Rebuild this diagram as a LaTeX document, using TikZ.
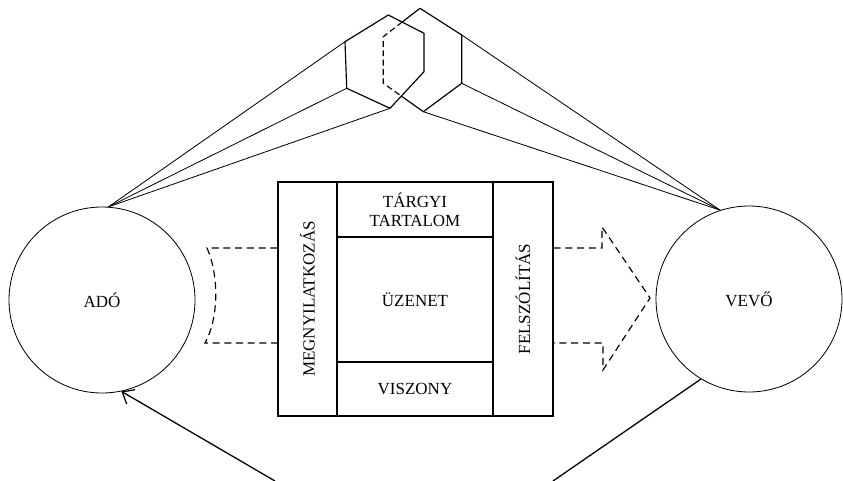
\documentclass[tikz,border=0pt]{standalone}
\usepackage{fontspec}
\setmainfont{Liberation Serif}
\usetikzlibrary{arrows.meta, calc}

\begin{document}
\begin{tikzpicture}[
    x=0.03cm, y=-0.03cm,
    font=\fontsize{14.5}{16.5}\selectfont,
    party/.style={circle, draw, line width=0.7pt, minimum size=5.58cm, inner sep=0pt},
    cell/.style={rectangle, draw, line width=1.1pt, inner sep=0pt, align=center},
    flow/.style={dash pattern=on 6pt off 4pt, line width=1pt},
    ray/.style={line width=0.7pt},
    edge/.style={line width=1pt, line join=round},
    hidden/.style={edge, dash pattern=on 5pt off 3pt},
    back/.style={-{Straight Barb[length=3mm, width=5mm]}, line width=1.1pt}
]
\useasboundingbox (0,0) rectangle (843,481);
% ===== ADÓ / VEVŐ =====
\node[party] (ado)  at (102,300) {ADÓ};
\node[party] (vevo) at (749,299) {VEVŐ};
% ===== ÜZENET DOBOZ =====
\node[cell, minimum width=1.77cm, minimum height=7.02cm] (megny) at (307.5,299) {};
\node[cell, minimum width=1.8cm, minimum height=7.02cm] (felsz) at (523,299) {};
\node[cell, minimum width=4.68cm, minimum height=1.65cm] (targy) at (415,209.5) {TÁRGYI\\TARTALOM};
\node[cell, minimum width=4.68cm, minimum height=3.75cm] (uzenet) at (415,299.5) {ÜZENET};
\node[cell, minimum width=4.68cm, minimum height=1.62cm] (viszony) at (415,389) {VISZONY};
\node[rotate=90] (megnytxt) at (megny) {MEGNYILATKOZÁS};
\node[rotate=90] (felsztxt) at (felsz) {FELSZÓLÍTÁS};
% ===== SZAGGATOTT NYILAK =====
\draw[flow] (megny.west |- 0,248) -- (207,248) .. controls (219,275) and (219,318) .. (205,343)
    -- (megny.west |- 0,343);
\coordinate (tip) at (650,298);
\draw[flow] (felsz.east |- 0,248) -- (602,248) -- (602,227) -- (tip) -- (603,370) -- (603,343)
    -- (felsz.east |- 0,343);
% ===== HASÁBOK =====
\coordinate (L1) at (388.3,15);   \coordinate (L2) at (424,33.3);
\coordinate (L3) at (424,71.7);   \coordinate (L4) at (390,108.3);
\coordinate (L5) at (346.7,88.3); \coordinate (L6) at (345,41.7);
\coordinate (R1) at (420,8.3);    \coordinate (R2) at (461.7,35);
\coordinate (R3) at (461.7,83.3); \coordinate (R4) at (423.3,111.7);
\coordinate (R5) at (383.3,83.3); \coordinate (R6) at (383.3,36.7);
\coordinate (X1) at (intersection of R6--R1 and L1--L2);
\coordinate (X2) at (intersection of R5--R4 and L3--L4);
\draw[edge] (L1) -- (L2) -- (L3) -- (L4) -- (L5) -- (L6) -- cycle;
\draw[edge] (X1) -- (R1) -- (R2) -- (R3) -- (R4) -- (X2);
\draw[hidden] (X1) -- (R6) -- (R5) -- (X2);
\foreach \c in {L6,L5,L4} \draw[ray] (\c) -- (ado.86);
\foreach \c in {R2,R3,R4} \draw[ray] (\c) -- (vevo.108);
% ===== VISSZACSATOLÁS =====
\coordinate (bl) at (275,481);
\coordinate (br) at (553,481);
\draw[back] (bl) -- (ado.282);
\draw[line width=1.1pt] (vevo.239) -- (br);
\end{tikzpicture}
\end{document}
